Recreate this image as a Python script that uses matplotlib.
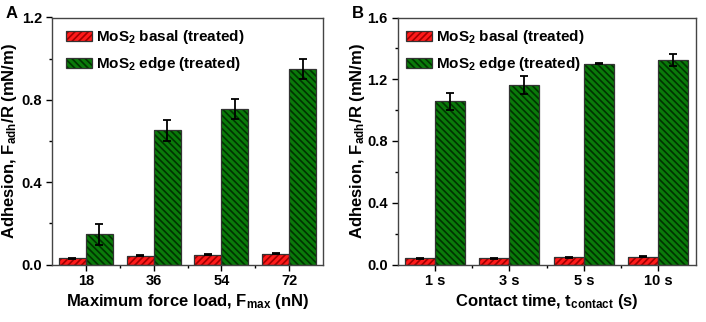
import matplotlib
matplotlib.use("Agg")
import matplotlib.pyplot as plt
import numpy as np
from matplotlib.ticker import MultipleLocator, FixedLocator, FormatStrFormatter
from matplotlib.patches import Patch, Rectangle
from matplotlib.legend_handler import HandlerPatch

plt.rcParams['font.family'] = ['Liberation Sans', 'DejaVu Sans']
plt.rcParams['font.weight'] = 'bold'
plt.rcParams['mathtext.fontset'] = 'custom'
plt.rcParams['mathtext.rm'] = 'Liberation Sans:bold'
plt.rcParams['mathtext.it'] = 'Liberation Sans:bold'
plt.rcParams['mathtext.bf'] = 'Liberation Sans:bold'
plt.rcParams['mathtext.default'] = 'bf'
plt.rcParams['hatch.linewidth'] = 1.2

# Panel A data
cats_a = ["18", "36", "54", "72"]
basal_a = [0.031, 0.042, 0.047, 0.052]
basal_a_err = [0.003, 0.003, 0.003, 0.003]
edge_a = [0.146, 0.652, 0.755, 0.950]
edge_a_err = [0.05, 0.05, 0.05, 0.05]

# Panel B data
cats_b = ["1 s", "3 s", "5 s", "10 s"]
basal_b = [0.040, 0.041, 0.046, 0.051]
basal_b_err = [0.003, 0.003, 0.003, 0.003]
edge_b = [1.059, 1.163, 1.302, 1.324]
edge_b_err = [0.055, 0.058, 0.005, 0.04]

series_labels = ["MoS$_2$ basal (treated)", "MoS$_2$ edge (treated)"]

red_fill, red_hatch = "#ff1a1a", "#a00000"
green_fill, green_hatch = "#0a7a0a", "#003300"
outline = "#333333"

W, H = 706, 322
fig = plt.figure(figsize=(W / 100, H / 100), dpi=100)
ax_a = fig.add_axes([52 / W, 1 - 264.5 / H, (323 - 52) / W, (264.5 - 17.5) / H])
ax_b = fig.add_axes([397.5 / W, 1 - 264.5 / H, (695.5 - 397.5) / W, (264.5 - 17.5) / H])

bw = 0.4


class HatchHandler(HandlerPatch):
    def create_artists(self, legend, orig_handle, xdescent, ydescent, width, height, fontsize, trans):
        r1 = Rectangle((-xdescent, -ydescent), width, height, facecolor=orig_handle.get_facecolor(),
                       edgecolor=orig_handle.get_edgecolor(), hatch=orig_handle.get_hatch(),
                       linewidth=0, transform=trans)
        r2 = Rectangle((-xdescent, -ydescent), width, height, fill=False,
                       edgecolor=outline, linewidth=0.9, transform=trans)
        return [r1, r2]


def hbar(ax, x, h, fill, hcol, hatch):
    ax.bar(x, h, bw, color=fill, edgecolor=hcol, hatch=hatch, linewidth=0, zorder=2)
    ax.bar(x, h, bw, fill=False, edgecolor=outline, linewidth=0.9, zorder=3)


def panel(ax, cats, basal, berr, edge, eerr, ymax, xlabel, letter, ylab_x, leg_x):
    x = np.arange(1, len(cats) + 1)
    hbar(ax, x - bw / 2, basal, red_fill, red_hatch, "/////")
    hbar(ax, x + bw / 2, edge, green_fill, green_hatch, "\\\\\\\\\\")
    ax.errorbar(x - bw / 2, basal, yerr=berr, fmt="none", ecolor="black",
                elinewidth=1.3, capsize=3, capthick=1.3, zorder=4)
    ax.errorbar(x + bw / 2, edge, yerr=eerr, fmt="none", ecolor="black",
                elinewidth=1.3, capsize=3, capthick=1.3, zorder=4)
    ax.set_xlim(0.5, len(cats) + 0.5)
    ax.set_ylim(0, ymax)
    ax.set_xticks(x)
    ax.set_xticklabels(cats)
    ax.xaxis.set_minor_locator(FixedLocator(np.arange(1.5, len(cats), 1.0)))
    ax.yaxis.set_major_locator(MultipleLocator(0.4))
    ax.yaxis.set_minor_locator(MultipleLocator(0.2))
    ax.yaxis.set_major_formatter(FormatStrFormatter("%.1f"))
    ax.tick_params(axis="both", which="major", direction="out", length=4, width=1,
                   labelsize=10.5, pad=3, colors="black")
    ax.tick_params(axis="both", which="minor", direction="out", length=2.5, width=1)
    for s in ax.spines.values():
        s.set_linewidth(1.0)
        s.set_color("#444444")
    ax.set_xlabel(xlabel, fontsize=12, fontweight="bold", labelpad=3)
    ax.set_ylabel("Adhesion, F$_{adh}$/R (mN/m)", fontsize=12, fontweight="bold")
    ax.yaxis.set_label_coords(ylab_x, 0.5)
    handles = [Patch(facecolor=red_fill, edgecolor=red_hatch, hatch="/////"),
               Patch(facecolor=green_fill, edgecolor=green_hatch, hatch="\\\\\\\\\\")]
    ax.legend(handles, series_labels, loc="upper left", frameon=False,
              prop={"weight": "bold", "size": 11}, handlelength=1.7, handleheight=0.65,
              borderpad=0, borderaxespad=0, labelspacing=0.6, handletextpad=0.25,
              bbox_to_anchor=(leg_x, 1 - 10.5 / 247), handler_map={Patch: HatchHandler()})
    fig.text(ax.get_position().x0 - 46 / W, 1 - 18 / H, letter, fontsize=12,
             fontweight="bold", ha="left", va="baseline")


panel(ax_a, cats_a, basal_a, basal_a_err, edge_a, edge_a_err, 1.2,
      "Maximum force load, F$_{max}$ (nN)", "A", -33 / 271, 14 / 271)
panel(ax_b, cats_b, basal_b, basal_b_err, edge_b, edge_b_err, 1.6,
      "Contact time, t$_{contact}$ (s)", "B", -30.5 / 298, 8.5 / 298)

fig.savefig("out.png", dpi=100)
